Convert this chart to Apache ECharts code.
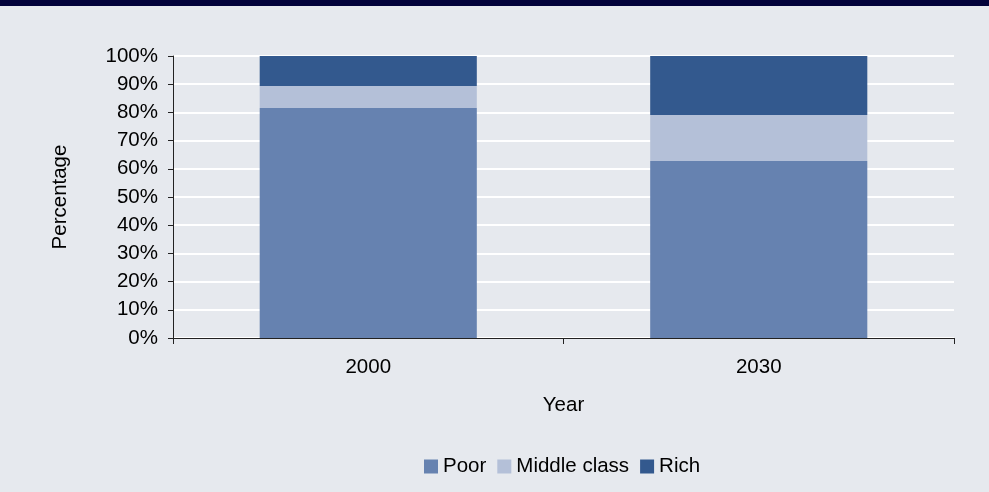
<!DOCTYPE html>
<html>
<head>
<meta charset="utf-8">
<script src="https://cdn.jsdelivr.net/npm/echarts@6/dist/echarts.min.js"></script>
<style>
html,body{margin:0;padding:0;background:#e6e9ee;}
#c{width:989px;height:492px;}
</style>
</head>
<body>
<div id="c"></div>
<script>
const categories = ['2000', '2030'];
const poor = [81.6, 62.8];
const middleClass = [7.8, 16.3];
const rich = [10.6, 20.9];
const seriesNames = ['Poor', 'Middle class', 'Rich'];
const colors = ['#6682b0', '#b4c0d8', '#33598e'];

const font = 'Liberation Sans, Arial, sans-serif';
const fs = 20.5;
const chart = echarts.init(document.getElementById('c'));
chart.setOption({
  backgroundColor: '#e6e9ee',
  animation: false,
  graphic: [{
    type: 'rect', left: 0, top: 0,
    shape: {width: 989, height: 6},
    style: {fill: '#02023a'}
  }],
  grid: {left: 173, right: 35, top: 56, bottom: 154},
  legend: {
    left: 419, top: 451,
    icon: 'rect', itemWidth: 14, itemHeight: 14, itemGap: 11,
    textStyle: {fontFamily: font, fontSize: fs, color: '#000'},
    data: seriesNames
  },
  xAxis: {
    type: 'category',
    data: categories,
    name: 'Year', nameLocation: 'middle', nameGap: 57,
    nameTextStyle: {fontFamily: font, fontSize: fs, color: '#000'},
    axisLine: {lineStyle: {color: '#222', width: 1}},
    axisTick: {show: true, length: 6, lineStyle: {color: '#222'}},
    axisLabel: {fontFamily: font, fontSize: fs, color: '#000', margin: 19},
    splitLine: {show: false}
  },
  yAxis: {
    type: 'value', min: 0, max: 100, interval: 10,
    name: 'Percentage', nameLocation: 'middle', nameGap: 102,
    nameTextStyle: {fontFamily: font, fontSize: fs, color: '#000'},
    axisLine: {show: true, lineStyle: {color: '#222', width: 1}},
    axisTick: {show: true, length: 5, lineStyle: {color: '#222'}},
    axisLabel: {fontFamily: font, fontSize: fs, color: '#000', margin: 15, formatter: '{value}%'},
    splitLine: {show: true, lineStyle: {color: '#ffffff', width: 2}}
  },
  series: [
    {name: seriesNames[0], type: 'bar', stack: 'a', data: poor, itemStyle: {color: colors[0]}, barCategoryGap: '44.4%'},
    {name: seriesNames[1], type: 'bar', stack: 'a', data: middleClass, itemStyle: {color: colors[1]}},
    {name: seriesNames[2], type: 'bar', stack: 'a', data: rich, itemStyle: {color: colors[2]}}
  ]
});
</script>
</body>
</html>
